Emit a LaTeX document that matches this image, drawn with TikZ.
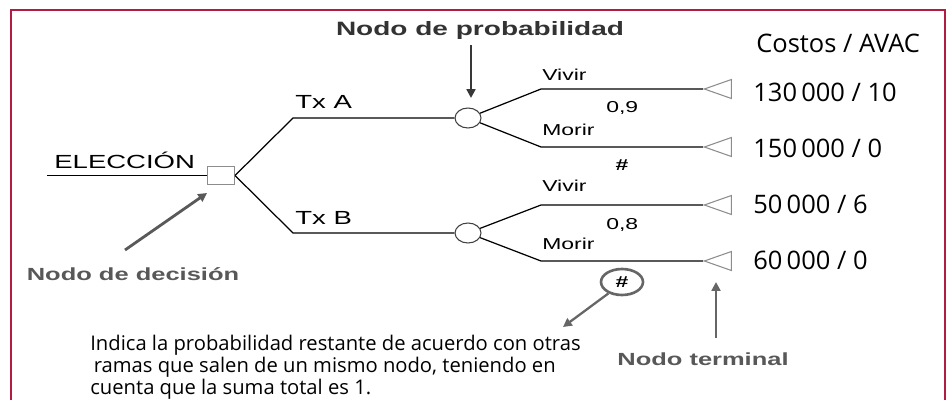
\documentclass[tikz,border=0pt]{standalone}
\usepackage{fontspec}
\setmainfont{Open Sans}
\newfontfamily\lblfont[FakeStretch=1.45]{Liberation Sans}
\usetikzlibrary{shapes.geometric,arrows.meta}
\definecolor{marco}{RGB}{178,28,66}
\definecolor{gristag}{RGB}{88,88,88}

\begin{document}
\begin{tikzpicture}[x=0.02cm,y=-0.02cm,
  rama/.style={line width=0.7pt},
  decision/.style={draw=black!45,line width=0.6pt,minimum width=0.54cm,minimum height=0.36cm,inner sep=0},
  azar/.style={draw=black!75,ellipse,line width=0.6pt,minimum width=0.52cm,minimum height=0.4cm,inner sep=0},
  terminal/.style={draw=black!45,line width=0.6pt,isosceles triangle,isosceles triangle stretches,shape border rotate=180,minimum height=0.54cm,minimum width=0.38cm,inner sep=0,anchor=apex},
  rotulo/.style={font=\lblfont\fontsize{10.8}{12}\selectfont,inner sep=0,anchor=base west},
  prob/.style={font=\lblfont\fontsize{9}{11}\selectfont,inner sep=0,anchor=base west},
  tag/.style={font=\lblfont\bfseries\fontsize{10}{12}\selectfont,text=gristag,inner sep=0,anchor=base},
  costo/.style={font=\fontsize{14.5}{17}\selectfont,inner sep=0,anchor=base west},
  flecha/.style={line width=1.6pt,-{Triangle[length=5pt,width=5pt]}}]
\useasboundingbox (0,0) rectangle (952,399);
\clip (0,0) rectangle (952,399);
\draw[marco,line width=1.4pt] (11,10) rectangle (945,420);

\node[decision] (dec) at (221,175.5) {};
\coordinate (ent) at (47,175.5);
\node[azar] (pa) at (468,118) {};
\node[azar] (pb) at (468,233) {};
\coordinate (kA) at (293,118);
\coordinate (kB) at (293,233);
\coordinate (kA1) at (541,89);
\coordinate (kA2) at (541,147);
\coordinate (kB1) at (541,205);
\coordinate (kB2) at (541,261);
\node[terminal] (t1) at (703,89) {};
\node[terminal] (t2) at (703,147) {};
\node[terminal] (t3) at (703,205) {};
\node[terminal] (t4) at (703,261) {};

\draw[rama] (ent) -- (dec);
\draw[rama] (dec.east) -- (kA) -- (pa);
\draw[rama] (dec.east) -- (kB) -- (pb);
\draw[rama] (pa) -- (kA1) -- (t1);
\draw[rama] (pa) -- (kA2) -- (t2);
\draw[rama] (pb) -- (kB1) -- (t3);
\draw[rama] (pb) -- (kB2) -- (t4);

\node[rotulo] (elec) at (54,168.5) {ELECCIÓN};
\node[rotulo] (txa) at (295,108) {Tx A};
\node[rotulo] (txb) at (295,224) {Tx B};

\node[prob] (viva) at (542,80) {Vivir};
\node[prob] (pva) at (606,112) {0,9};
\node[prob] (mora) at (542,135) {Morir};
\node[prob,font=\lblfont\bfseries\fontsize{9}{11}\selectfont,anchor=base] (pma) at (622,170) {\#};
\node[prob] (vivb) at (542,191) {Vivir};
\node[prob] (pvb) at (606,229) {0,8};
\node[prob] (morb) at (542,249) {Morir};
\node[draw=black!60,ellipse,line width=1.5pt,minimum width=0.84cm,minimum height=0.52cm,inner sep=0,font=\lblfont\bfseries\fontsize{9}{11}\selectfont] (pmb) at (622,282) {\#};

\node[costo] (cab) at (756,52) {Costos / AVAC};
\node[costo] (c1) at (753,101) {130\,000 / 10};
\node[costo] (c2) at (753,157) {150\,000 / 0};
\node[costo] (c3) at (753,213) {50\,000 / 6};
\node[costo] (c4) at (753,269) {60\,000 / 0};

\node[tag,text=black!80,font=\lblfont\bfseries\fontsize{11}{13}\selectfont] (lprob) at (480,35) {Nodo de probabilidad};
\node[tag] (ldec) at (133,280) {Nodo de decisión};
\node[tag] (lterm) at (703,365) {Nodo terminal};

\node[font=\fontsize{11.5}{12.4}\selectfont,align=left,inner sep=0,anchor=base west] (nota) at (90,394)
  {Indica la probabilidad restante de acuerdo con otras\\
   \hspace*{2pt}ramas que salen de un mismo nodo, teniendo en\\
   cuenta que la suma total es 1.};

\coordinate (probCola) at (471,45);
\coordinate (probPunta) at (471,98);
\coordinate (decCola) at (125,250);
\coordinate (decPunta) at (207,193);
\coordinate (notaPunta) at (563,327);
\coordinate (termCola) at (716,338);
\coordinate (termPunta) at (716,282);

\draw[flecha,black!78] (probCola) -- (probPunta);
\draw[flecha,black!65] (decCola) -- (decPunta);
\draw[flecha,black!60,line width=1.3pt] (pmb.220) -- (notaPunta);
\draw[flecha,black!60] (termCola) -- (termPunta);
\end{tikzpicture}
\end{document}
